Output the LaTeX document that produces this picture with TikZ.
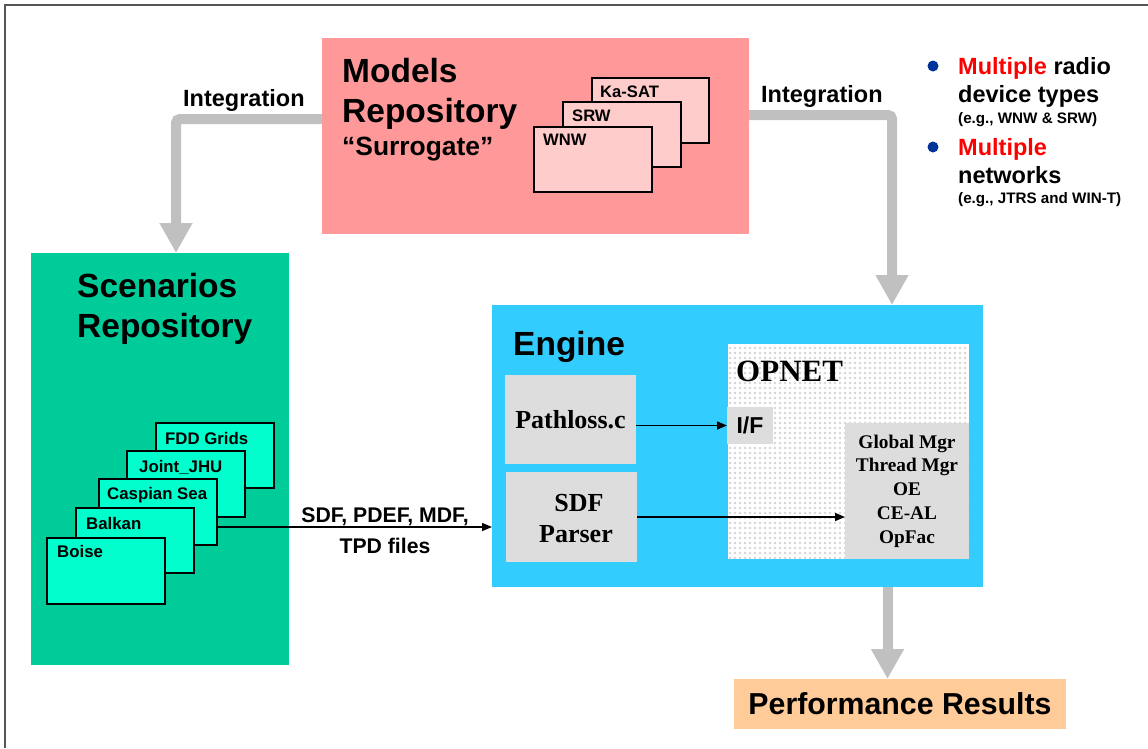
\documentclass[tikz,border=0pt]{standalone}
\usepackage{fontspec}
\setmainfont{Liberation Sans}
\newfontfamily\tms{Liberation Serif}
\usetikzlibrary{arrows.meta,patterns.meta,calc}
\definecolor{modfill}{HTML}{FF9999}
\definecolor{modcard}{HTML}{FFCCCC}
\definecolor{scenfill}{HTML}{00CC99}
\definecolor{scencard}{HTML}{00FFCC}
\definecolor{engfill}{HTML}{33CCFF}
\definecolor{lgray}{HTML}{DDDDDD}
\definecolor{perffill}{HTML}{FFCC99}
\definecolor{agray}{HTML}{C0C0C0}
\definecolor{mred}{HTML}{FF0000}
\definecolor{bblue}{HTML}{003399}
\definecolor{framegray}{HTML}{555555}
\newcommand\myfs[2]{\fontsize{#1}{#2}\selectfont}
\begin{document}
\begin{tikzpicture}[x=1pt,y=-1pt,
  box/.style={rectangle,inner sep=0pt,outer sep=0pt,anchor=north west},
  card/.style={box,draw=black,line width=1.5pt},
  lbl/.style={inner sep=0pt,anchor=base west,font=\bfseries},
  clbl/.style={inner sep=0pt,anchor=base,font=\bfseries},
  gconn/.style={draw=agray,line width=10pt,rounded corners=4pt,-{Triangle[width=31pt,length=30pt]}},
  bconn/.style={draw=black,line width=1.5pt,-{Triangle[width=8pt,length=10pt]}}]
\useasboundingbox (0,0) rectangle (1148,748);
\draw[framegray,line width=1.5pt] (5,748) -- (5,5) -- (1148,5);

% Models repository
\node[box,fill=modfill,minimum width=427pt,minimum height=196pt] (models) at (322,38) {};
\node[lbl,font=\bfseries\myfs{33.5}{40}] (mt1) at (342,82) {Models};
\node[lbl,font=\bfseries\myfs{33.5}{40}] (mt2) at (342,122) {Repository};
\node[lbl,font=\bfseries\myfs{26.4}{30}] (mt3) at (342,155) {“Surrogate”};
\node[card,fill=modcard,minimum width=117pt,minimum height=65pt] (ka) at (592,78) {};
\node[card,fill=modcard,minimum width=118pt,minimum height=65pt] (srw) at (563,102) {};
\node[card,fill=modcard,minimum width=118pt,minimum height=65pt] (wnw) at (534,127) {};
\node[lbl,font=\bfseries\myfs{16.6}{19}] (kal) at (600,97) {Ka-SAT};
\node[lbl,font=\bfseries\myfs{16.6}{19}] (srwl) at (572,121) {SRW};
\node[lbl,font=\bfseries\myfs{16.6}{19}] (wnwl) at (543,145) {WNW};

% Bullets
\fill[bblue] (933,66) circle (5.5pt);
\fill[bblue] (933,147) circle (5.5pt);
\node[lbl,font=\bfseries\myfs{23.5}{28}] (b1a) at (958,74) {\textcolor{mred}{Multiple} radio};
\node[lbl,font=\bfseries\myfs{23.5}{28}] (b1b) at (958,102) {device types};
\node[lbl,font=\bfseries\myfs{15.2}{17}] (b1c) at (958,123) {(e.g., WNW \& SRW)};
\node[lbl,font=\bfseries\myfs{23.5}{28}] (b2a) at (958,155) {\textcolor{mred}{Multiple}};
\node[lbl,font=\bfseries\myfs{23.5}{28}] (b2b) at (958,183) {networks};
\node[lbl,font=\bfseries\myfs{15.2}{17}] (b2c) at (958,203) {(e.g., JTRS and WIN-T)};

% Scenarios repository
\node[box,fill=scenfill,minimum width=258pt,minimum height=412pt] (scen) at (31,253) {};
\node[lbl,font=\bfseries\myfs{33.5}{40}] (st1) at (77,297) {Scenarios};
\node[lbl,font=\bfseries\myfs{33.5}{40}] (st2) at (77,337) {Repository};
\node[card,fill=scencard,minimum width=118pt,minimum height=65pt] (fdd) at (156,423) {};
\node[card,fill=scencard,minimum width=118pt,minimum height=66pt] (joint) at (127,451) {};
\node[card,fill=scencard,minimum width=118pt,minimum height=66pt] (casp) at (99,479) {};
\node[card,fill=scencard,minimum width=118pt,minimum height=65pt] (balk) at (76,508) {};
\node[card,fill=scencard,minimum width=118pt,minimum height=66pt] (boise) at (47,538) {};
\node[lbl,font=\bfseries\myfs{16.8}{19}] (fddl) at (165,444) {FDD Grids};
\node[lbl,font=\bfseries\myfs{16.8}{19}] (jointl) at (139,472) {Joint\_JHU};
\node[lbl,font=\bfseries\myfs{16.8}{19}] (caspl) at (107,499) {Caspian Sea};
\node[lbl,font=\bfseries\myfs{16.8}{19}] (balkl) at (86,529) {Balkan};
\node[lbl,font=\bfseries\myfs{16.8}{19}] (boisel) at (57,557) {Boise};

% Engine
\node[box,fill=engfill,minimum width=491pt,minimum height=282pt] (engine) at (492,305) {};
\node[lbl,font=\bfseries\myfs{33.5}{40}] (engl) at (513,355) {Engine};
\node[box,fill=lgray,minimum width=131pt,minimum height=89pt,font=\tms\bfseries\myfs{26}{31}] (path) at (505,375) {Pathloss.c};
\node[box,fill=lgray,minimum width=131pt,minimum height=90pt] (sdf) at (506,472) {};
\node[clbl,font=\tms\bfseries\myfs{26}{31}] (sdf1) at (579,511) {SDF};
\node[clbl,font=\tms\bfseries\myfs{26}{31}] (sdf2) at (576,542) {Parser};
\node[box,preaction={fill=white},pattern={Dots[distance=5pt,radius=1.3pt]},pattern color=black!17,minimum width=241pt,minimum height=215pt] (opnet) at (728,344) {};
\node[lbl,font=\tms\bfseries\myfs{31}{36}] (opnetl) at (736,381) {OPNET};
\node[box,fill=lgray,minimum width=46pt,minimum height=37pt,font=\bfseries\myfs{23}{27}] (if) at (727,407) {I/F};
\node[box,fill=lgray,minimum width=124pt,minimum height=136pt,align=center,font=\tms\bfseries\myfs{19.3}{23.75}] (glob) at (845,423) {Global Mgr\\Thread Mgr\\OE\\CE-AL\\OpFac};

% Performance results
\node[box,fill=perffill,minimum width=332pt,minimum height=50pt,font=\bfseries\myfs{30.3}{34}] (perf) at (734,679) {Performance Results};

% Gray integration arrows
\coordinate (cl) at (176,119);
\coordinate (cr) at (892,115);
\coordinate (cb) at (887.5,0);
\draw[gconn] (models.west |- cl) -- (cl) -- (cl |- scen.north);
\draw[gconn] (models.east |- cr) -- (cr) -- (cr |- engine.north);
\draw[gconn] (engine.south -| cb) -- (cb |- perf.north);
\node[lbl,font=\bfseries\myfs{23.5}{28}] (intl) at (183,106) {Integration};
\node[lbl,font=\bfseries\myfs{23.5}{28}] (intr) at (761,102) {Integration};

% Black arrows
\coordinate (cf) at (0,527);
\draw[bconn] (casp.east |- cf) -- (engine.west |- cf);
\node[clbl,font=\bfseries\myfs{21.2}{25}] (files1) at (385,522) {SDF, PDEF, MDF,};
\node[clbl,font=\bfseries\myfs{21.2}{25}] (files2) at (385,553) {TPD files};
\draw[bconn] (path.east |- if.west) -- (if.west);
\draw[bconn] (sdf.east) -- (sdf.east -| glob.west);
\end{tikzpicture}
\end{document}
